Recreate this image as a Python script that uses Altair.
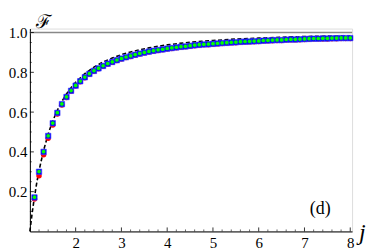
import altair as alt
import pandas as pd

# ---- data ----
j_pts = [1.1, 1.2, 1.3, 1.4, 1.5, 1.6, 1.7, 1.8, 1.9, 2.0,
         2.1, 2.2, 2.3, 2.4, 2.5, 2.6, 2.7, 2.8, 2.9, 3.0,
         3.1, 3.2, 3.3, 3.4, 3.5, 3.6, 3.7, 3.8, 3.9, 4.0,
         4.1, 4.2, 4.3, 4.4, 4.5, 4.6, 4.7, 4.8, 4.9, 5.0,
         5.1, 5.2, 5.3, 5.4, 5.5, 5.6, 5.7, 5.8, 5.9, 6.0,
         6.1, 6.2, 6.3, 6.4, 6.5, 6.6, 6.7, 6.8, 6.9, 7.0,
         7.1, 7.2, 7.3, 7.4, 7.5, 7.6, 7.7, 7.8, 7.9, 8.0]
F_blue = [0.171, 0.300, 0.400, 0.480, 0.544, 0.596, 0.640, 0.676, 0.707, 0.733,
          0.755, 0.775, 0.792, 0.807, 0.820, 0.832, 0.843, 0.852, 0.861, 0.869,
          0.876, 0.882, 0.888, 0.894, 0.899, 0.904, 0.908, 0.912, 0.915, 0.919,
          0.922, 0.925, 0.928, 0.930, 0.933, 0.936, 0.938, 0.940, 0.941, 0.943,
          0.945, 0.947, 0.948, 0.950, 0.951, 0.953, 0.954, 0.955, 0.956, 0.957,
          0.959, 0.960, 0.961, 0.962, 0.962, 0.964, 0.965, 0.965, 0.966, 0.967,
          0.968, 0.969, 0.969, 0.970, 0.970, 0.971, 0.971, 0.972, 0.972, 0.972]
F_green = [0.172, 0.301, 0.401, 0.481, 0.545, 0.597, 0.641, 0.677, 0.708, 0.734,
           0.756, 0.776, 0.793, 0.808, 0.821, 0.833, 0.844, 0.853, 0.862, 0.870,
           0.877, 0.883, 0.889, 0.895, 0.900, 0.905, 0.909, 0.913, 0.916, 0.920,
           0.923, 0.926, 0.929, 0.931, 0.934, 0.937, 0.939, 0.941, 0.942, 0.944,
           0.946, 0.948, 0.949, 0.951, 0.952, 0.954, 0.955, 0.956, 0.957, 0.958,
           0.960, 0.961, 0.962, 0.963, 0.963, 0.965, 0.966, 0.966, 0.967, 0.968,
           0.969, 0.970, 0.970, 0.971, 0.971, 0.972, 0.972, 0.973, 0.973, 0.973]
F_red = [0.163, 0.280, 0.385, 0.468, 0.535, 0.590, 0.636, 0.673, 0.705, 0.731,
         0.753, 0.773, 0.790, 0.805, 0.818, 0.830, 0.841, 0.850, 0.859, 0.867,
         0.874, 0.880, 0.886, 0.892, 0.897, 0.902, 0.906, 0.910, 0.913, 0.917,
         0.920, 0.923, 0.926, 0.928, 0.931, 0.934, 0.936, 0.938, 0.939, 0.941,
         0.943, 0.945, 0.946, 0.948, 0.949, 0.951, 0.952, 0.953, 0.954, 0.955,
         0.957, 0.958, 0.959, 0.960, 0.960, 0.962, 0.963, 0.963, 0.964, 0.965,
         0.966, 0.967, 0.967, 0.968, 0.968, 0.969, 0.969, 0.970, 0.970, 0.970]

j_line = [1.0, 1.05, 1.1, 1.15, 1.2, 1.3, 1.4, 1.5, 1.6, 1.7, 1.8, 1.9, 2.0,
          2.2, 2.4, 2.6, 2.8, 3.0, 3.2, 3.4, 3.6, 3.8, 4.0,
          4.25, 4.5, 4.75, 5.0, 5.5, 6.0, 6.5, 7.0, 7.5, 8.0]
F_line = [0.0, 0.093, 0.174, 0.244, 0.306, 0.408, 0.490, 0.556, 0.609, 0.654, 0.691, 0.723, 0.750,
          0.793, 0.826, 0.852, 0.872, 0.889, 0.902, 0.913, 0.923, 0.931, 0.938,
          0.945, 0.951, 0.956, 0.960, 0.967, 0.972, 0.976, 0.980, 0.982, 0.984]

j_ref = [1.0, 8.04]
F_ref = [1.0, 1.0]

x_major = [2, 3, 4, 5, 6, 7, 8]
x_minor = [1.2, 1.4, 1.6, 1.8, 2.2, 2.4, 2.6, 2.8, 3.2, 3.4, 3.6, 3.8,
           4.2, 4.4, 4.6, 4.8, 5.2, 5.4, 5.6, 5.8, 6.2, 6.4, 6.6, 6.8,
           7.2, 7.4, 7.6, 7.8]
y_major = [0.2, 0.4, 0.6, 0.8, 1.0]
y_minor = [0.05, 0.1, 0.15, 0.25, 0.3, 0.35, 0.45, 0.5, 0.55, 0.65, 0.7, 0.75,
           0.85, 0.9, 0.95]

W, H = 324, 204
FONT = "Liberation Serif"

pts = pd.DataFrame({"j": j_pts, "blue": F_blue, "green": F_green, "red": F_red})
line = pd.DataFrame({"j": j_line, "F": F_line})
ref = pd.DataFrame({"j": j_ref, "F": F_ref})

xs = alt.Scale(domain=[1, 8.04], nice=False, zero=False)
ys = alt.Scale(domain=[0, 1.02], nice=False, zero=False)

xax = alt.Axis(values=x_major, ticks=False, grid=False, domainColor="black",
               domainWidth=1, labelFont=FONT, labelFontSize=15, labelColor="black",
               labelPadding=4, title=None, format="d")
yax = alt.Axis(values=y_major, ticks=False, grid=False, domainColor="black",
               domainWidth=1, labelFont=FONT, labelFontSize=15, labelColor="black",
               labelPadding=3, title=None, format=".1f")

base_ref = alt.Chart(ref).mark_line(color="#888888", strokeWidth=1.6).encode(
    x=alt.X("j:Q", scale=xs, axis=xax), y=alt.Y("F:Q", scale=ys, axis=yax))

red = alt.Chart(pts).mark_point(shape="circle", filled=True, size=30, color="#ff0000",
                                opacity=1).encode(x="j:Q", y="red:Q")
blue = alt.Chart(pts).mark_point(shape="square", filled=True, size=30, color="#0000ff",
                                 stroke="#4040ff", strokeWidth=0.6, opacity=1).encode(x="j:Q", y="blue:Q")
green = alt.Chart(pts).mark_point(shape="circle", filled=True, size=14, color="#00ff00",
                                  opacity=1).encode(x="j:Q", y="green:Q")
dashed = alt.Chart(line).mark_line(color="black", strokeWidth=1.6,
                                   strokeDash=[4, 2.5]).encode(x="j:Q", y="F:Q")

xmaj = alt.Chart(pd.DataFrame({"t": x_major})).mark_rule(color="black", strokeWidth=0.8).encode(
    x="t:Q", y=alt.value(H), y2=alt.value(H - 4))
xmin = alt.Chart(pd.DataFrame({"t": x_minor})).mark_rule(color="black", strokeWidth=0.6).encode(
    x="t:Q", y=alt.value(H), y2=alt.value(H - 2))
ymaj = alt.Chart(pd.DataFrame({"t": y_major})).mark_rule(color="black", strokeWidth=0.8).encode(
    y="t:Q", x=alt.value(0), x2=alt.value(4))
ymin = alt.Chart(pd.DataFrame({"t": y_minor})).mark_rule(color="black", strokeWidth=0.6).encode(
    y="t:Q", x=alt.value(0), x2=alt.value(2))

labF = alt.Chart(pd.DataFrame({"s": ["ℱ"]})).mark_text(
    font="DejaVu Serif", fontSize=19, align="left", baseline="alphabetic",
    color="black").encode(text="s:N", x=alt.value(6), y=alt.value(-1))
labj = alt.Chart(pd.DataFrame({"s": ["j"]})).mark_text(
    font=FONT, fontSize=24, fontStyle="italic", align="left", baseline="middle",
    color="black").encode(text="s:N", x=alt.value(W + 7), y=alt.value(H + 2))
labd = alt.Chart(pd.DataFrame({"s": ["(d)"]})).mark_text(
    font=FONT, fontSize=18, align="center", baseline="middle",
    color="black").encode(text="s:N", x=alt.value(292), y=alt.value(181))

chart = alt.layer(base_ref, dashed, red, blue, green, xmin, xmaj, ymin, ymaj,
                  labF, labj, labd).properties(
    width=W, height=H,
    autosize=alt.AutoSizeParams(type="none"),
    padding={"left": 22, "top": 20, "right": 14, "bottom": 19},
).configure_view(stroke=None).configure(background="white", font=FONT).configure_axis(
    labelFont=FONT, labelFontSize=15)

chart.save("out.html", embed_options={"renderer": "svg", "actions": False})
